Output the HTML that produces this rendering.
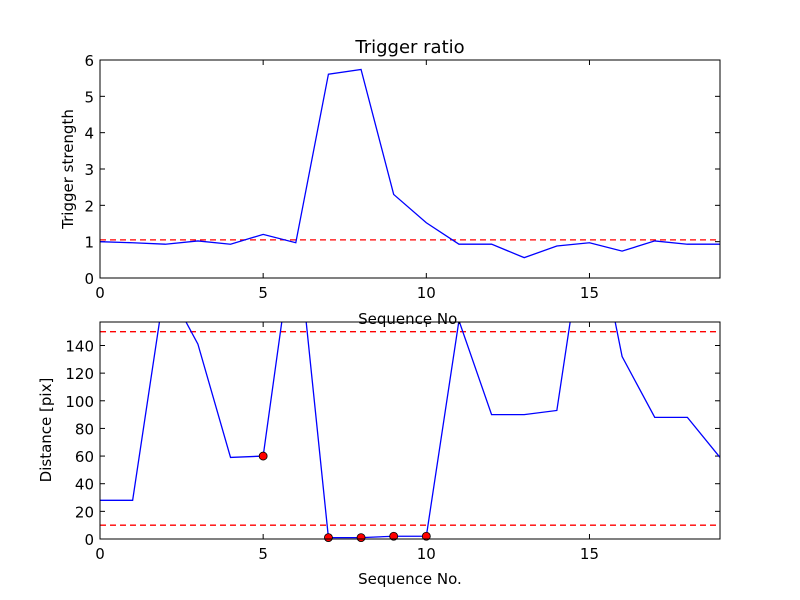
<!DOCTYPE html>
<html><head><meta charset="utf-8"><style>
body{margin:0;background:#fff;}
svg{display:block;font-family:"DejaVu Sans","Liberation Sans",sans-serif;}
</style></head><body>
<svg id="c" width="800" height="600" viewBox="0 0 800 600">
<rect width="800" height="600" fill="#fff"/>
<defs>
<clipPath id="clipTop"><rect x="100" y="60" width="620" height="218"/></clipPath>
<clipPath id="clipBot"><rect x="100" y="322" width="620" height="217"/></clipPath>
</defs>
</svg>
<script>
const seq = [0,1,2,3,4,5,6,7,8,9,10,11,12,13,14,15,16,17,18,19];
const strength = [1.0,0.97,0.93,1.02,0.93,1.2,0.97,5.61,5.74,2.3,1.52,0.93,0.93,0.56,0.88,0.97,0.74,1.02,0.93,0.93];
const strengthThreshold = 1.05;
const distance = [28,28,185,141,59,60,230,1,1,2,2,158,90,90,93,250,132,88,88,59];
const distanceThresholds = [150,10];
const flaggedIdx = [5,7,8,9,10];
const topYTicks = [0,1,2,3,4,5,6];
const botYTicks = [0,20,40,60,80,100,120,140];
const xTicks = [0,5,10,15];

const svg = document.getElementById('c');
const NS = 'http://www.w3.org/2000/svg';
function mk(tag, attrs, parent){const e=document.createElementNS(NS,tag);for(const k in attrs)e.setAttribute(k,attrs[k]);(parent||svg).appendChild(e);return e;}

const X0=100,X1=720;
const xs = v => X0 + (v-0)/(19-0)*(X1-X0);
const topY = v => 278 - v/6*218;
const botYmax = 157;
const botY = v => 539 - v/botYmax*217;

function axes(yTop,yBot,yticks,yf,name){
  const g=mk('g',{});
  
  
  xTicks.forEach(t=>{
    const x=xs(t);
    mk('line',{x1:x,x2:x,y1:yBot,y2:yBot-5,stroke:'#000'},g);
    mk('line',{x1:x,x2:x,y1:yTop,y2:yTop+5,stroke:'#000'},g);
    const tx=mk('text',{x:x,y:yBot+20,'text-anchor':'middle','font-size':'15'},g);
    tx.textContent=t;
    
    
  });
  yticks.forEach(t=>{
    const y=yf(t);
    mk('line',{x1:X0,x2:X0+5,y1:y,y2:y,stroke:'#000'},g);
    mk('line',{x1:X1,x2:X1-5,y1:y,y2:y,stroke:'#000'},g);
    const tx=mk('text',{x:X0-6,y:y+6,'text-anchor':'end','font-size':'15'},g);
    tx.textContent=t;
    
    
  });
  return g;
}

axes(60,278,topYTicks,topY,'top-axes');
const thr=mk('line',{x1:X0,x2:X1,y1:topY(strengthThreshold),y2:topY(strengthThreshold),stroke:'#f00','stroke-width':1.3,'stroke-dasharray':'6,4','clip-path':'url(#clipTop)'});


const l1=mk('polyline',{points:seq.map((s,i)=>xs(s)+','+topY(strength[i])).join(' '),fill:'none',stroke:'#00f','stroke-width':1.3,'clip-path':'url(#clipTop)'});


const f1=mk('rect',{x:X0,y:60,width:620,height:218,fill:'none',stroke:'#000','stroke-width':1});



axes(322,539,botYTicks,botY,'bottom-axes');
distanceThresholds.forEach(v=>{
  const l=mk('line',{x1:X0,x2:X1,y1:botY(v),y2:botY(v),stroke:'#f00','stroke-width':1.3,'stroke-dasharray':'6,4','clip-path':'url(#clipBot)'});
  
  
});
const l2=mk('polyline',{points:seq.map((s,i)=>xs(s)+','+botY(distance[i])).join(' '),fill:'none',stroke:'#00f','stroke-width':1.3,'clip-path':'url(#clipBot)'});


flaggedIdx.forEach(i=>{
  const c=mk('circle',{cx:xs(seq[i]),cy:botY(distance[i]),r:4,fill:'#f00',stroke:'#000','stroke-width':0.8});
  
  
});
const f2=mk('rect',{x:X0,y:322,width:620,height:217,fill:'none',stroke:'#000','stroke-width':1});



function txt(x,y,s,size,name,rot){
  const t=mk('text',{x:x,y:y,'text-anchor':'middle','font-size':size});
  if(rot)t.setAttribute('transform','rotate(-90 '+x+' '+y+')');
  t.textContent=s;
  
  
}
txt(410,53,'Trigger ratio',18,'chart-title');
txt(410,324,'Sequence No.',15,'top-x-axis-title');
txt(73,169,'Trigger strength',15,'top-y-axis-title',true);
txt(410,584,'Sequence No.',15,'bottom-x-axis-title');
txt(51,430,'Distance [pix]',15,'bottom-y-axis-title',true);
</script>
</body></html>
